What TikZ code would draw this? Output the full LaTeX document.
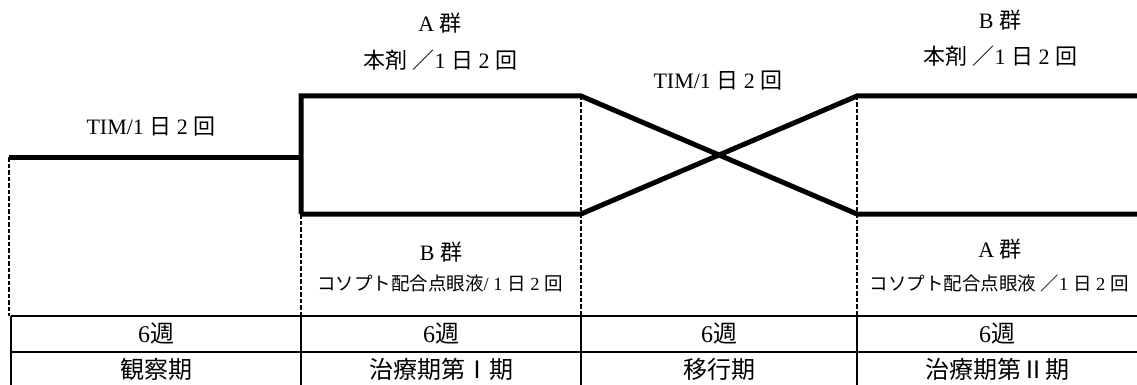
\documentclass[tikz,border=0pt]{standalone}
\usepackage{fontspec}
\setmainfont{Liberation Serif}
\newfontfamily\jp{Noto Sans CJK JP}
\newcommand{\J}[1]{{\jp #1}}
\begin{document}
\begin{tikzpicture}[x=1pt,y=-1pt,
  thickln/.style={line width=5pt, line join=miter},
  dashln/.style={line width=1.6pt, dash pattern=on 4.5pt off 2pt},
  tabln/.style={line width=2pt},
  lbl/.style={inner sep=0pt, font=\fontsize{22}{24}\selectfont},
  sml/.style={inner sep=0pt, font=\fontsize{18.5}{20}\selectfont},
  tab/.style={inner sep=0pt, font=\fontsize{24}{26}\selectfont}]
\useasboundingbox (0,0) rectangle (1137,385);
% key points
\coordinate (s0) at (9,157);
\coordinate (s1) at (301,157);
\coordinate (at) at (301,96);
\coordinate (ab) at (301,214);
\coordinate (bt) at (581,96);
\coordinate (bb) at (581,214);
\coordinate (ct) at (857,96);
\coordinate (cb) at (857,214);
\coordinate (dt) at (1137,96);
\coordinate (db) at (1137,214);
% dashed guides
\draw[dashln] (s0) -- (9,316);
\draw[dashln] (ab) -- (301,316);
\draw[dashln] (bt) -- (581,316);
\draw[dashln] (ct) -- (857,316);
% thick path lines
\draw[thickln] (s0) -- (s1);
\draw[thickln] (ab) -- (at) -- (bt) -- (cb) -- (db);
\draw[thickln] (ab) -- (bb) -- (ct) -- (dt);
% table
\coordinate (t0) at (11,316);
\coordinate (t1) at (1137,316);
\coordinate (m0) at (11,352);
\coordinate (m1) at (1137,352);
\draw[tabln] (t0) -- (t1);
\draw[tabln] (m0) -- (m1);
\draw[tabln] (t0) -- (11,385);
\draw[tabln] (301,316) -- (301,385);
\draw[tabln] (581,316) -- (581,385);
\draw[tabln] (857,316) -- (857,385);
% labels
\node[lbl] (l1) at (151,127) {TIM/1 \J{日} 2 \J{回}};
\node[lbl] (l2) at (440,23) {A \J{群}};
\node[lbl] (l3) at (440,60) {\J{本剤} \J{／}1 \J{日} 2 \J{回}};
\node[lbl] (l4) at (718,81) {TIM/1 \J{日} 2 \J{回}};
\node[lbl] (l5) at (1000,20) {B \J{群}};
\node[lbl] (l6) at (1000,56) {\J{本剤} \J{／}1 \J{日} 2 \J{回}};
\node[lbl] (l7) at (441,252) {B \J{群}};
\node[sml] (l8) at (440,283) {\J{コソプト配合点眼液}/ 1 \J{日} 2 \J{回}};
\node[lbl] (l9) at (1000,249) {A \J{群}};
\node[sml] (l10) at (999,283) {\J{コソプト配合点眼液} \J{／}1 \J{日} 2 \J{回}};
% table texts
\node[tab] (w1) at (156,334) {6\J{週}};
\node[tab] (w2) at (441,334) {6\J{週}};
\node[tab] (w3) at (719,334) {6\J{週}};
\node[tab] (w4) at (997,334) {6\J{週}};
\node[tab] (p1) at (156,369) {\J{観察期}};
\node[tab] (p2) at (441,369) {\J{治療期第Ⅰ期}};
\node[tab] (p3) at (719,369) {\J{移行期}};
\node[tab] (p4) at (997,369) {\J{治療期第Ⅱ期}};
\end{tikzpicture}
\end{document}
